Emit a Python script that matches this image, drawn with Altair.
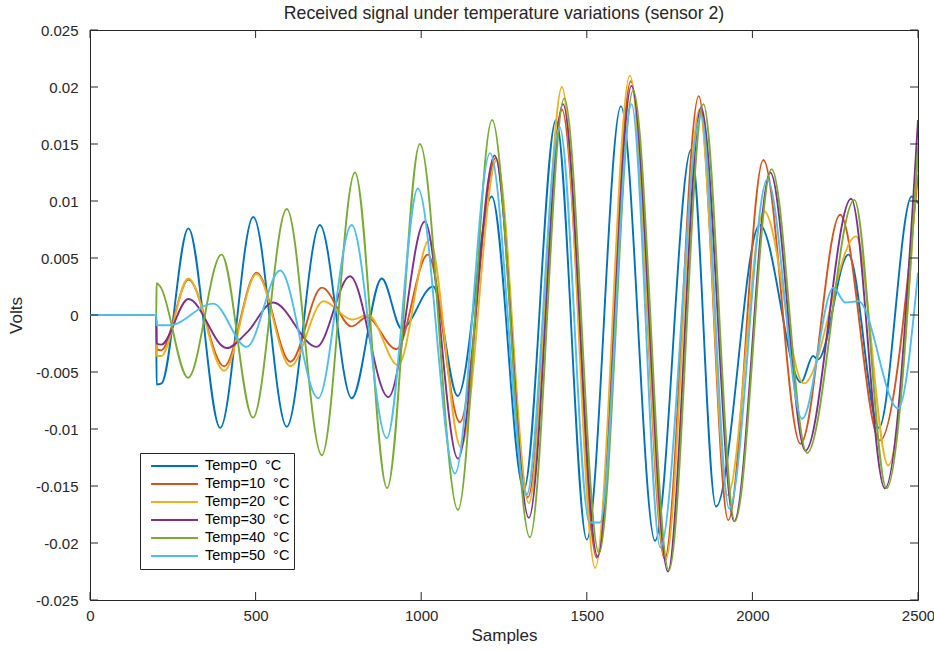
import altair as alt
import pandas as pd

labels = ["Temp=0\u00a0\u00a0\u00b0C", "Temp=10\u00a0\u00a0\u00b0C", "Temp=20\u00a0\u00a0\u00b0C",
          "Temp=30\u00a0\u00a0\u00b0C", "Temp=40\u00a0\u00a0\u00b0C", "Temp=50\u00a0\u00a0\u00b0C"]
colors = ["#0072BD", "#D95319", "#EDB120", "#7E2F8E", "#77AC30", "#4DBEEE"]

x_ticks = [0, 500, 1000, 1500, 2000, 2500]
y_ticks = [-0.025, -0.02, -0.015, -0.01, -0.005, 0, 0.005, 0.01, 0.015, 0.02, 0.025]

# Temp = 0 C
s0 = [0, 200, 201, 216, 297, 393, 493, 594, 694, 790, 881, 941, 1036, 1110, 1213, 1310, 1407, 1500,
      1603, 1706, 1815, 1890, 2022, 2147, 2183, 2198, 2290, 2382, 2481, 2500]
v0 = [0, 0, -0.0061, -0.0060, 0.0076, -0.0099, 0.0086, -0.0098, 0.0079, -0.0073, 0.0032, -0.0012,
      0.0025, -0.0071, 0.0104, -0.0153, 0.0171, -0.0197, 0.0183, -0.0198, 0.0145, -0.0168, 0.0079,
      -0.0059, -0.0036, -0.0039, 0.0053, -0.0099, 0.0104, 0.0098]
# Temp = 10 C
s1 = [0, 200, 201, 215, 297, 405, 503, 605, 700, 790, 835, 925, 1020, 1117, 1225, 1322, 1425, 1530,
      1633, 1735, 1838, 1927, 2033, 2145, 2265, 2385, 2500]
v1 = [0, 0, -0.0030, -0.0031, 0.0031, -0.0045, 0.0037, -0.0041, 0.0024, -0.0010, -0.0002, -0.0030,
      0.0053, -0.0094, 0.0138, -0.0160, 0.0180, -0.0213, 0.0205, -0.0214, 0.0192, -0.0180, 0.0136,
      -0.0113, 0.0088, -0.0110, 0.0123]
# Temp = 20 C
s2 = [0, 200, 201, 215, 297, 405, 503, 605, 705, 790, 840, 930, 1025, 1120, 1228, 1325, 1425, 1525,
      1630, 1738, 1840, 1925, 2035, 2155, 2313, 2410, 2500]
v2 = [0, 0, -0.0036, -0.0036, 0.0032, -0.0049, 0.0036, -0.0045, 0.0012, -0.0004, 0.0000, -0.0044,
      0.0066, -0.0116, 0.0136, -0.0165, 0.0200, -0.0222, 0.0210, -0.0215, 0.0180, -0.0158, 0.0091,
      -0.0060, 0.0069, -0.0132, 0.0142]
# Temp = 30 C
s3 = [0, 200, 201, 215, 297, 413, 475, 553, 684, 785, 901, 1011, 1111, 1222, 1325, 1428, 1533, 1635,
      1745, 1845, 1945, 2054, 2160, 2298, 2400, 2500]
v3 = [0, 0, -0.0025, -0.0026, 0.0014, -0.0029, -0.0015, 0.0011, -0.0028, 0.0034, -0.0072, 0.0082,
      -0.0126, 0.0140, -0.0178, 0.0185, -0.0212, 0.0201, -0.0225, 0.0182, -0.0181, 0.0125, -0.0119,
      0.0102, -0.0152, 0.0171]
# Temp = 40 C
s4 = [0, 200, 201, 212, 296, 397, 492, 594, 700, 800, 897, 996, 1111, 1214, 1328, 1432, 1537, 1640,
      1748, 1852, 1947, 2058, 2165, 2308, 2405, 2500]
v4 = [0, 0, 0.0028, 0.0025, -0.0055, 0.0053, -0.0090, 0.0093, -0.0123, 0.0125, -0.0152, 0.0150,
      -0.0171, 0.0171, -0.0195, 0.0190, -0.0209, 0.0197, -0.0224, 0.0185, -0.0181, 0.0128, -0.0121,
      0.0101, -0.0152, 0.0148]
# Temp = 50 C
s5 = [0, 200, 201, 240, 372, 473, 574, 689, 790, 896, 990, 1102, 1208, 1318, 1418, 1508, 1540, 1635,
      1722, 1845, 1930, 2045, 2150, 2245, 2280, 2320, 2440, 2500]
v5 = [0, 0, -0.0009, -0.0009, 0.0010, -0.0028, 0.0039, -0.0073, 0.0079, -0.0108, 0.0111, -0.0139,
      0.0142, -0.0158, 0.0165, -0.0182, -0.0182, 0.0185, -0.0204, 0.0175, -0.0170, 0.0119, -0.0091,
      0.0024, 0.0011, 0.0012, -0.0082, 0.0037]

rows = []
for lab, S, V in zip(labels, [s0, s1, s2, s3, s4, s5], [v0, v1, v2, v3, v4, v5]):
    for s, v in zip(S, V):
        rows.append({"series": lab, "sample": s, "volts": v})
df = pd.DataFrame(rows)

FONT = "Liberation Sans"
INK = "#262626"
W, H = 828, 570

xscale = alt.Scale(domain=[0, 2500], nice=False)
yscale = alt.Scale(domain=[-0.025, 0.025], nice=False)
xaxis = alt.Axis(values=x_ticks, title="Samples", format="d", labelPadding=8, titlePadding=4,
                 labelFlush=False)
yaxis = alt.Axis(values=y_ticks, title="Volts", labelExpr="toString(datum.value)",
                 labelPadding=12, titlePadding=10, labelFlush=False)

lines = alt.Chart(df).mark_line(strokeWidth=1.9, interpolate="monotone", clip=True).encode(
    x=alt.X("sample:Q", scale=xscale, axis=xaxis),
    y=alt.Y("volts:Q", scale=yscale, axis=yaxis),
    color=alt.Color("series:N", scale=alt.Scale(domain=labels, range=colors),
                    legend=alt.Legend(title=None, orient="none", legendX=50, legendY=423,
                                      symbolType="stroke", symbolSize=2200, symbolStrokeWidth=2,
                                      labelFontSize=14.5, labelFont=FONT, labelColor="#000000",
                                      clipHeight=18, rowPadding=0, padding=4, symbolOffset=6,
                                      labelOffset=6, strokeColor=INK, fillColor="white",
                                      cornerRadius=0)),
)

xt = pd.DataFrame({"t": x_ticks})
yt = pd.DataFrame({"t": y_ticks})
tick_len = 8
bottom = alt.Chart(xt).mark_rule(color=INK, strokeWidth=1).encode(
    x=alt.X("t:Q", scale=xscale, axis=xaxis), y=alt.value(H), y2=alt.value(H - tick_len))
top = alt.Chart(xt).mark_rule(color=INK, strokeWidth=1).encode(
    x=alt.X("t:Q", scale=xscale, axis=xaxis), y=alt.value(0), y2=alt.value(tick_len))
left = alt.Chart(yt).mark_rule(color=INK, strokeWidth=1).encode(
    y=alt.Y("t:Q", scale=yscale, axis=yaxis), x=alt.value(0), x2=alt.value(tick_len))
right = alt.Chart(yt).mark_rule(color=INK, strokeWidth=1).encode(
    y=alt.Y("t:Q", scale=yscale, axis=yaxis), x=alt.value(W), x2=alt.value(W - tick_len))

chart = alt.layer(lines, bottom, top, left, right).properties(
    width=W, height=H,
    title=alt.TitleParams("Received signal under temperature variations (sensor 2)",
                          font=FONT, fontSize=17.7, fontWeight="normal", color=INK,
                          anchor="middle", offset=0),
    autosize=alt.AutoSizeParams(type="none"),
    padding={"left": 90, "top": 30, "right": 16, "bottom": 51},
    background="white",
).configure_view(stroke=INK, strokeWidth=1).configure_axis(
    domain=False, ticks=False, grid=False, labelFont=FONT, titleFont=FONT,
    labelFontSize=15, titleFontSize=17, labelColor=INK, titleColor=INK, titleFontWeight="normal"
)

chart.save("out.html", embed_options={"renderer": "svg", "actions": False})
